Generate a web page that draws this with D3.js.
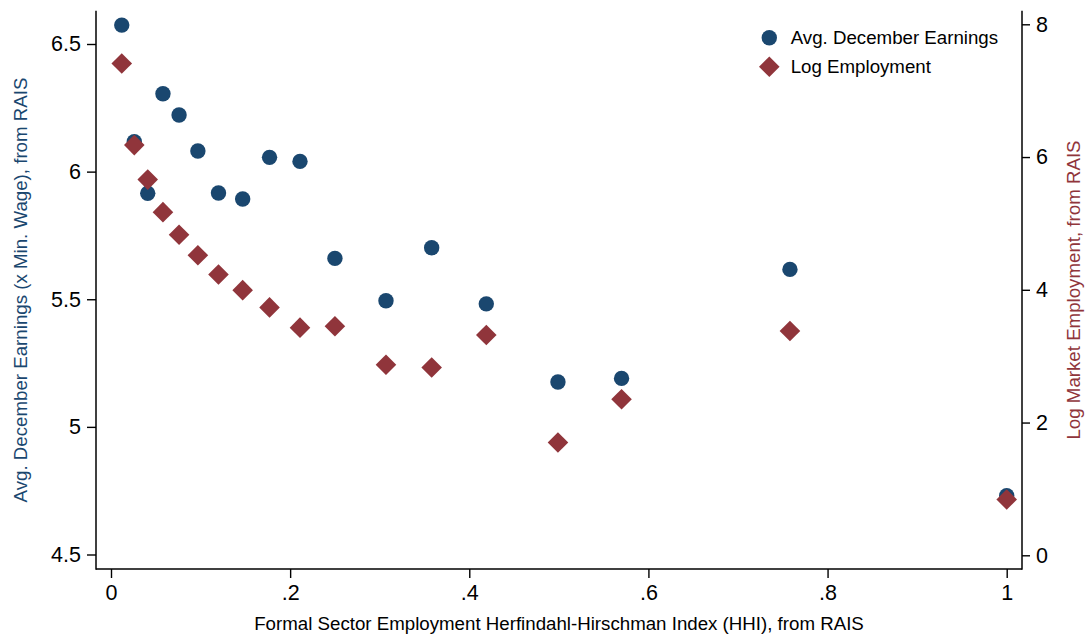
<!DOCTYPE html>
<html>
<head>
<meta charset="utf-8">
<script src="https://cdn.jsdelivr.net/npm/d3@7"></script>
<style>
  body { margin: 0; background: #fff; }
  svg { display: block; font-family: "Liberation Sans", Arial, sans-serif; }
  .axis text { font-size: 21.5px; fill: #000; }
  .axis line { stroke: #000; stroke-width: 1.4px; }
  .axis .domain { display: none; }
</style>
</head>
<body>
<div id="chart"></div>
<script>
// HHI bins (x) and the two series
var hhi = [0.012, 0.026, 0.041, 0.058, 0.076, 0.097, 0.120, 0.147, 0.177,
           0.211, 0.250, 0.307, 0.358, 0.419, 0.499, 0.570, 0.758, 1.000];
var earnings = [6.574, 6.117, 5.915, 6.305, 6.222, 6.081, 5.916, 5.893, 6.056,
                6.040, 5.660, 5.494, 5.702, 5.482, 5.176, 5.190, 5.617, 4.730];
var logEmp = [7.41, 6.18, 5.66, 5.17, 4.83, 4.52, 4.23, 3.995, 3.735,
              3.43, 3.45, 2.87, 2.83, 3.32, 1.70, 2.35, 3.38, 0.84];

var xTicks = [0, 0.2, 0.4, 0.6, 0.8, 1];
var xTickLabels = ["0", ".2", ".4", ".6", ".8", "1"];
var leftTicks = [4.5, 5, 5.5, 6, 6.5];
var leftTickLabels = ["4.5", "5", "5.5", "6", "6.5"];
var rightTicks = [0, 2, 4, 6, 8];
var rightTickLabels = ["0", "2", "4", "6", "8"];

var legendNames = ["Avg. December Earnings", "Log Employment"];

var blue = "#1a476f", red = "#90353b";

var width = 1089, height = 641;
// plot region (axis lines)
var plot = {left: 96, right: 1022, top: 10.7, bottom: 569};

var svg = d3.select("#chart").append("svg")
    .attr("width", width)
    .attr("height", height);

var x = d3.scaleLinear().domain([0, 1]).range([111, 1006.7]);
var yL = d3.scaleLinear().domain([4.5, 6.5]).range([554.5, 44]);
var yR = d3.scaleLinear().domain([0, 8]).range([555.3, 24.3]);

// axes
svg.append("g")
    .attr("class", "axis")
    .attr("transform", "translate(" + plot.left + ",0)")
    .call(d3.axisLeft(yL).tickValues(leftTicks).tickSize(9).tickPadding(6)
      .tickFormat(function(d, i) { return leftTickLabels[i]; }));

svg.append("g")
    .attr("class", "axis")
    .attr("transform", "translate(" + plot.right + ",0)")
    .call(d3.axisRight(yR).tickValues(rightTicks).tickSize(8).tickPadding(6)
      .tickFormat(function(d, i) { return rightTickLabels[i]; }));

svg.append("g")
    .attr("class", "axis")
    .attr("transform", "translate(0," + plot.bottom + ")")
    .call(d3.axisBottom(x).tickValues(xTicks).tickSize(9).tickPadding(7)
      .tickFormat(function(d, i) { return xTickLabels[i]; }));

// axis lines
var frame = svg.append("g").attr("stroke", "#000").attr("stroke-width", 1.5);
frame.append("line").attr("x1", plot.left).attr("x2", plot.left).attr("y1", plot.top).attr("y2", plot.bottom + 0.75);
frame.append("line").attr("x1", plot.right).attr("x2", plot.right).attr("y1", plot.top).attr("y2", plot.bottom + 0.75);
frame.append("line").attr("x1", plot.left).attr("x2", plot.right).attr("y1", plot.bottom).attr("y2", plot.bottom);

// axis titles
svg.append("text")
    .attr("transform", "translate(27,290) rotate(-90)")
    .attr("text-anchor", "middle")
    .style("font-size", "18.7px")
    .attr("fill", blue)
    .text("Avg. December Earnings (x Min. Wage), from RAIS");

svg.append("text")
    .attr("transform", "translate(1080,290) rotate(-90)")
    .attr("text-anchor", "middle")
    .style("font-size", "18.7px")
    .attr("fill", red)
    .text("Log Market Employment, from RAIS");

svg.append("text")
    .attr("x", (plot.left + plot.right) / 2)
    .attr("y", 630)
    .attr("text-anchor", "middle")
    .style("font-size", "18.7px")
    .attr("fill", "#000")
    .text("Formal Sector Employment Herfindahl-Hirschman Index (HHI), from RAIS");

// markers
var diamond = d3.symbol().type(d3.symbolSquare).size(212);

svg.append("g").selectAll("circle")
    .data(hhi)
    .enter().append("circle")
    .attr("cx", function(d) { return x(d); })
    .attr("cy", function(d, i) { return yL(earnings[i]); })
    .attr("r", 7.7)
    .attr("fill", blue);

svg.append("g").selectAll("path")
    .data(hhi)
    .enter().append("path")
    .attr("d", diamond)
    .attr("transform", function(d, i) {
      return "translate(" + x(d) + "," + yR(logEmp[i]) + ") rotate(45)";
    })
    .attr("fill", red);

// legend
var legend = svg.append("g");
legend.append("circle").attr("cx", 769.3).attr("cy", 37.7).attr("r", 7.7).attr("fill", blue);
legend.append("path").attr("d", diamond)
    .attr("transform", "translate(769.3,66.7) rotate(45)").attr("fill", red);
legend.selectAll("text")
    .data(legendNames)
    .enter().append("text")
    .attr("x", 790.7)
    .attr("y", function(d, i) { return 44.3 + i * 29; })
    .style("font-size", "18.7px")
    .attr("fill", "#000")
    .text(function(d) { return d; });
</script>
</body>
</html>
